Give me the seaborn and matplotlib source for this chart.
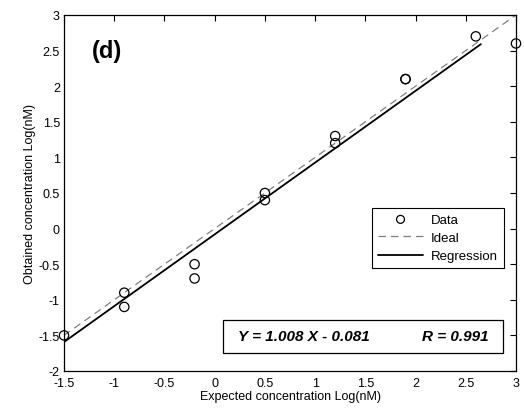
import numpy as np
import pandas as pd
import seaborn as sns
import matplotlib.pyplot as plt
from matplotlib.patches import Rectangle

# data
expected = [-1.5, -0.9, -0.9, -0.2, -0.2, 0.5, 0.5, 1.2, 1.2, 1.9, 1.9, 2.6, 3.0]
obtained = [-1.5, -0.9, -1.1, -0.5, -0.7, 0.5, 0.4, 1.3, 1.2, 2.1, 2.1, 2.7, 2.6]
ideal_x = [-1.5, 3.0]
slope = 1.008
intercept = -0.081
R = 0.991
reg_x = [-1.5, 2.65]

sns.set_style("white")
plt.rcParams['font.family'] = ['Liberation Sans', 'DejaVu Sans']
plt.rcParams['text.color'] = 'black'
plt.rcParams['axes.labelcolor'] = 'black'

fig = plt.figure(figsize=(5.24, 4.14), dpi=100)
ax = fig.add_axes([64/524, 1-372/414, (516-64)/524, (372-16)/414])

df = pd.DataFrame({'x': expected, 'y': obtained})
sns.scatterplot(data=df, x='x', y='y', ax=ax, marker='o', s=45,
                facecolor='none', edgecolor='black', linewidth=0.9, label='Data',
                clip_on=False, zorder=5)
ideal = pd.DataFrame({'x': ideal_x, 'y': ideal_x})
sns.lineplot(data=ideal, x='x', y='y', ax=ax, color='#808080', lw=0.9,
             linestyle=(0, (6, 4)), label='Ideal')
reg = pd.DataFrame({'x': reg_x, 'y': [slope*v + intercept for v in reg_x]})
sns.lineplot(data=reg, x='x', y='y', ax=ax, color='black', lw=1.3, label='Regression')

ax.set_xlim(-1.5, 3)
ax.set_ylim(-2, 3)
ax.set_xticks(np.arange(-1.5, 3.01, 0.5))
ax.set_yticks(np.arange(-2, 3.01, 0.5))
ax.set_xticklabels([f"{v:g}" for v in np.arange(-1.5, 3.01, 0.5)])
ax.set_yticklabels([f"{v:g}" for v in np.arange(-2, 3.01, 0.5)])
ax.tick_params(direction='in', length=4, width=0.8, labelsize=9, top=True, right=True,
               colors='black')
ax.tick_params(axis='x', pad=4)
ax.tick_params(axis='y', pad=3)
for s in ax.spines.values():
    s.set_color('black')
    s.set_linewidth(0.9)
ax.set_xlabel('Expected concentration Log(nM)', fontsize=9, labelpad=1)
ax.set_ylabel('Obtained concentration Log(nM)', fontsize=9, labelpad=2)

ax.text(-1.22, 2.5, '(d)', fontsize=17, fontweight='bold', va='center', color='black')

leg = ax.legend(loc='lower right', bbox_to_anchor=(0.973, 0.289), borderaxespad=0,
                fontsize=9.5, frameon=True, fancybox=False, edgecolor='black',
                framealpha=1, handlelength=3.4, borderpad=0.45, labelspacing=0.45,
                handletextpad=0.6, markerscale=0.85)
leg.get_frame().set_linewidth(0.8)
for t in leg.get_texts():
    t.set_color('black')

ax.add_patch(Rectangle((0.352, 0.0506), 0.971-0.352, 0.143-0.0506, transform=ax.transAxes,
                       facecolor='white', edgecolor='black', lw=0.9, zorder=6))
ax.text(0.385, 0.097, f'Y = {slope:.3f} X - {abs(intercept):.3f}', transform=ax.transAxes,
        fontsize=11, fontweight='bold', fontstyle='italic', ha='left', va='center',
        color='black', zorder=7)
ax.text(0.940, 0.097, f'R = {R:.3f}', transform=ax.transAxes,
        fontsize=11, fontweight='bold', fontstyle='italic', ha='right', va='center',
        color='black', zorder=7)

fig.savefig('out.png', dpi=100)
